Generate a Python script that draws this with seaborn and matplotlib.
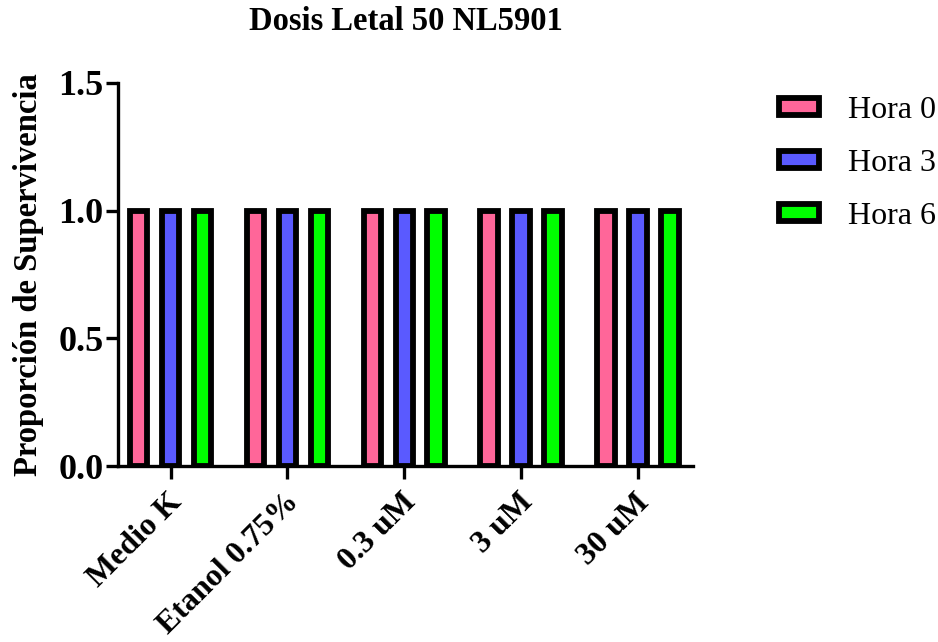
import numpy as np
import pandas as pd
import matplotlib
matplotlib.use("Agg")
import matplotlib.pyplot as plt
import matplotlib.transforms as mtransforms
import seaborn as sns

# Data
categories = ["Medio K", "Etanol 0.75%", "0.3 uM", "3 uM", "30 uM"]
hours = ["Hora 0", "Hora 3", "Hora 6"]
hora0 = [1.0, 1.0, 1.0, 1.0, 1.0]
hora3 = [1.0, 1.0, 1.0, 1.0, 1.0]
hora6 = [1.0, 1.0, 1.0, 1.0, 1.0]
colors = ["#FF6699", "#5A5AFF", "#00FF00"]
yticks = [0.0, 0.5, 1.0, 1.5]

df = pd.DataFrame({
    "Tratamiento": categories * 3,
    "Hora": [hours[0]] * 5 + [hours[1]] * 5 + [hours[2]] * 5,
    "Supervivencia": hora0 + hora3 + hora6,
})

sns.set_style("ticks")
plt.rcParams['font.family'] = ['Liberation Serif', 'DejaVu Serif']
plt.rcParams['text.color'] = 'black'
plt.rcParams['axes.labelcolor'] = 'black'
plt.rcParams['xtick.color'] = 'black'
plt.rcParams['ytick.color'] = 'black'
plt.rcParams['axes.edgecolor'] = 'black'

fig = plt.figure(figsize=(9.38, 6.42), dpi=100)
ax = fig.add_axes([0.1258, 0.274, 0.613, 0.597])

sns.barplot(data=df, x="Tratamiento", y="Supervivencia", hue="Hora",
            palette=colors, saturation=1, width=0.82, gap=0.45,
            edgecolor="black", linewidth=4.2, errorbar=None, ax=ax)

ax.set_ylim(0, 1.5)
ax.set_xlim(-0.45, 4.47)
ax.set_yticks(yticks)
ax.set_yticklabels([f"{t:.1f}" for t in yticks], fontsize=26, fontweight="bold")
ax.set_xticks(range(len(categories)))
ax.set_xticklabels(categories, fontsize=23, fontweight="bold", rotation=45,
                   ha="right", va="center", rotation_mode="anchor")
ax.set_xlabel("")
ax.set_ylabel("Proporción de Supervivencia", fontsize=23.5, fontweight="bold", labelpad=10)
ax.set_title("Dosis Letal 50 NL5901", fontsize=23.5, fontweight="bold", pad=38)

for side in ["left", "bottom"]:
    ax.spines[side].set_linewidth(2.4)
sns.despine(ax=ax)
ax.tick_params(axis="both", width=2.4, length=9)
ax.tick_params(axis="y", pad=1.5)
ax.tick_params(axis="x", pad=14)

# nudge rotated category labels slightly right
offset = mtransforms.ScaledTranslation(0.07, 0.0, fig.dpi_scale_trans)
for lbl in ax.get_xticklabels():
    lbl.set_transform(lbl.get_transform() + offset)

leg = ax.legend(loc="upper left", bbox_to_anchor=(1.1, 1.04), frameon=False,
                fontsize=23, handlelength=1.25, handleheight=0.45,
                labelspacing=0.75, handletextpad=0.9)
for h in leg.legend_handles:
    h.set_edgecolor("black")
    h.set_linewidth(4.2)

fig.savefig("out.png", dpi=100)
